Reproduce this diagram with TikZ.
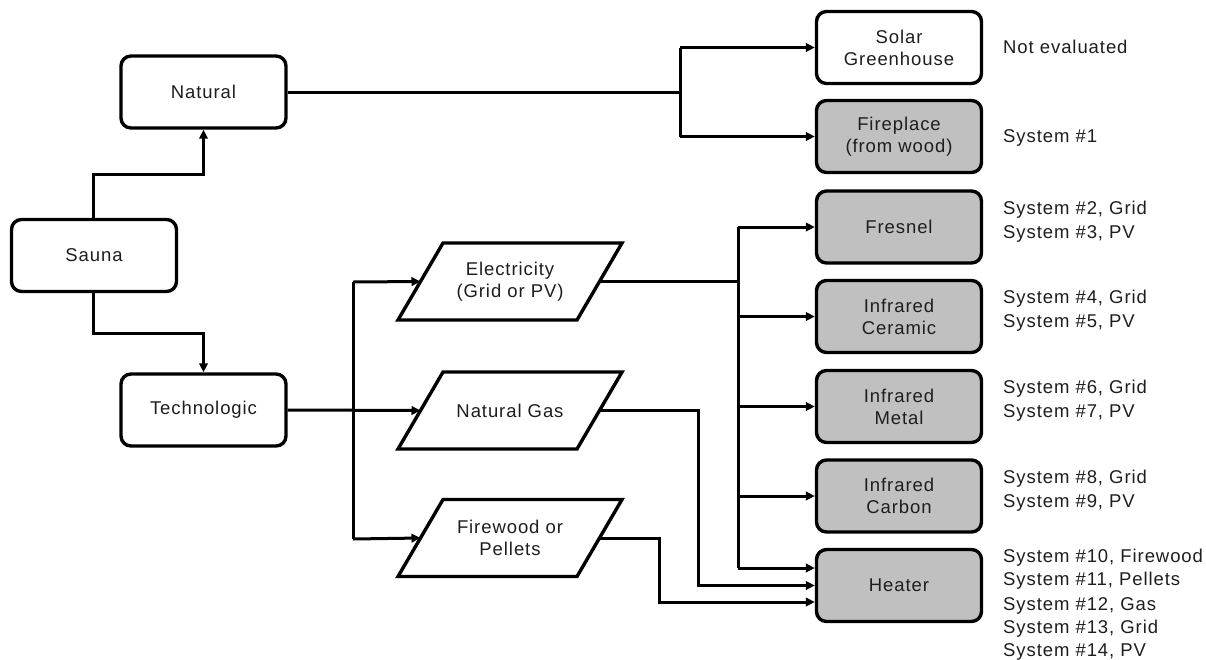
\documentclass[tikz,border=0pt]{standalone}
\usepackage{fontspec}
\setmainfont{Liberation Sans}[LetterSpace=5]
\usetikzlibrary{arrows.meta}
\definecolor{boxgrey}{RGB}{192,192,192}
\definecolor{txt}{RGB}{30,30,30}
\tikzset{
  rbox/.style={draw=black, line width=3.4pt, rounded corners=10pt, minimum width=165pt, minimum height=72pt, inner sep=0pt, align=center, text=txt, font=\fontsize{18.5}{22}\selectfont},
  gbox/.style={rbox, fill=boxgrey},
  paratext/.style={minimum width=180pt, minimum height=77pt, inner sep=0pt, align=center, text=txt, font=\fontsize{18.5}{22}\selectfont},
  paraline/.style={draw=black, line width=3.4pt, line join=miter},
  conn/.style={line width=3pt, line join=miter},
  arr/.style={conn, -{Triangle[length=9pt,width=8.5pt]}},
  lab/.style={anchor=base west, inner sep=0pt, text=txt, font=\fontsize{18.5}{22}\selectfont}
}
\newcommand\drawpara[1]{%
  \draw[paraline] ([shift={(-112,38.5)}]#1.center) -- ([shift={(-67,-38.5)}]#1.center)
    -- ([shift={(112,-38.5)}]#1.center) -- ([shift={(67,38.5)}]#1.center) -- cycle;
  \coordinate (#1W) at ([xshift=-89.5pt]#1.center);
  \coordinate (#1E) at ([xshift=89.5pt]#1.center);}
\begin{document}
\begin{tikzpicture}[x=1pt,y=-1pt]
\useasboundingbox[fill=white] (0,0) rectangle (1206,659);
% left column
\node[rbox] (sauna) at (94,255.5) {Sauna};
\node[rbox] (nat) at (203.5,92) {Natural};
\node[rbox] (tech) at (203.5,410) {Technologic};
% parallelograms
\node[paratext] (elec) at (510,281.5) {Electricity\\(Grid or PV)};
\node[paratext] (gas) at (510,410.5) {Natural Gas};
\node[paratext] (fire) at (510,538) {Firewood or\\Pellets};
\drawpara{elec}
\drawpara{gas}
\drawpara{fire}
% right column
\node[rbox] (solar) at (899,47.5) {Solar\\Greenhouse};
\node[gbox] (fp) at (899,136.5) {Fireplace\\(from wood)};
\node[gbox] (fres) at (899,227) {Fresnel};
\node[gbox] (cer) at (899,316.5) {Infrared\\Ceramic};
\node[gbox] (met) at (899,406.5) {Infrared\\Metal};
\node[gbox] (carb) at (899,496) {Infrared\\Carbon};
\node[gbox] (heat) at (899,585.5) {Heater};
% labels
\node[lab] (l0) at (1003,53) {Not evaluated};
\node[lab] (l1) at (1003,142) {System \#1};
\node[lab] (l2) at (1003,214) {System \#2, Grid};
\node[lab] (l3) at (1003,238) {System \#3, PV};
\node[lab] (l4) at (1003,303) {System \#4, Grid};
\node[lab] (l5) at (1003,327) {System \#5, PV};
\node[lab] (l6) at (1003,393) {System \#6, Grid};
\node[lab] (l7) at (1003,417) {System \#7, PV};
\node[lab] (l8) at (1003,483) {System \#8, Grid};
\node[lab] (l9) at (1003,507) {System \#9, PV};
\node[lab] (l10) at (1003,562) {System \#10, Firewood};
\node[lab] (l11) at (1003,585) {System \#11, Pellets};
\node[lab] (l12) at (1003,610) {System \#12, Gas};
\node[lab] (l13) at (1003,633) {System \#13, Grid};
\node[lab] (l14) at (1003,656) {System \#14, PV};
% coordinates
\coordinate (sn) at (93,174);
\coordinate (st) at (93,333);
\coordinate (nb) at (680,92);
\coordinate (nt) at (680,47.5);
\coordinate (nf) at (680,136.5);
\coordinate (tb1) at (353,282);
\coordinate (tb2) at (353,539);
\coordinate (eb1) at (738,227);
\coordinate (eb2) at (738,568);
\coordinate (gx) at (698,585.5);
\coordinate (fx) at (659,602);
% Sauna connectors
\draw[arr] (sauna.north -| sn) -- (sn) -| (nat.south);
\draw[arr] (sauna.south -| st) -- (st) -| (tech.north);
% Natural
\draw[conn] (nat.east) -- (nb);
\draw[conn] (nt) -- (nf);
\draw[arr] (nt) -- (solar.west);
\draw[arr] (nf) -- (fp.west);
% Technologic
\draw[conn] (tb1) -- (tb2);
\draw[arr] (tech.east) -- (gasW);
\draw[arr] (tb1) -- (elecW);
\draw[arr] (tb2) -- (fireW);
% Electricity
\draw[conn] (elecE) -- (elecE -| eb1);
\draw[conn] (eb1) -- (eb2);
\draw[arr] (eb1) -- (fres.west);
\draw[arr] (eb1 |- cer.west) -- (cer.west);
\draw[arr] (eb1 |- met.west) -- (met.west);
\draw[arr] (eb1 |- carb.west) -- (carb.west);
\draw[arr] (eb2) -- (eb2 -| heat.west);
% Gas and firewood
\draw[arr] (gasE) -| (gx) -- (heat.west);
\draw[arr] (fireE) -| (fx) -- (fx -| heat.west);
\end{tikzpicture}
\end{document}
